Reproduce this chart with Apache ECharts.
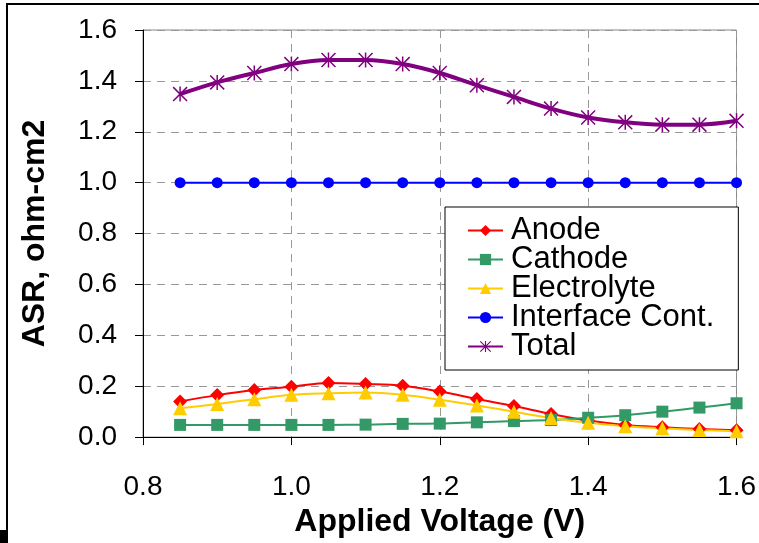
<!DOCTYPE html>
<html>
<head>
<meta charset="utf-8">
<script src="https://cdn.jsdelivr.net/npm/echarts@6/dist/echarts.min.js"></script>
<style>
  html, body { margin: 0; padding: 0; background: #fff; }
  #chart-container { width: 759px; height: 543px; }
</style>
</head>
<body>
<div id="chart-container"></div>
<script>
// applied voltage (V)
var voltage = [0.85, 0.9, 0.95, 1.0, 1.05, 1.1, 1.15, 1.2, 1.25, 1.3, 1.35, 1.4, 1.45, 1.5, 1.55, 1.6];

// ASR, ohm-cm2
var anode = [0.14, 0.165, 0.185, 0.198, 0.213, 0.209, 0.202, 0.179, 0.15, 0.122, 0.091, 0.065, 0.048, 0.039, 0.032, 0.027];
var cathode = [0.048, 0.048, 0.048, 0.048, 0.048, 0.049, 0.052, 0.053, 0.058, 0.063, 0.067, 0.076, 0.086, 0.1, 0.116, 0.133];
var electrolyte = [0.113, 0.13, 0.149, 0.166, 0.172, 0.175, 0.166, 0.147, 0.124, 0.1, 0.075, 0.056, 0.043, 0.035, 0.028, 0.023];
var interfaceCont = [1.0, 1.0, 1.0, 1.0, 1.0, 1.0, 1.0, 1.0, 1.0, 1.0, 1.0, 1.0, 1.0, 1.0, 1.0, 1.0];
var total = [1.348, 1.394, 1.431, 1.466, 1.482, 1.482, 1.466, 1.431, 1.383, 1.337, 1.291, 1.256, 1.237, 1.228, 1.228, 1.243];

var seriesNames = ['Anode', 'Cathode', 'Electrolyte', 'Interface Cont.', 'Total'];

function pairs(ys) {
    return voltage.map(function (x, i) { return [x, ys[i]]; });
}

// asterisk marker (X plus vertical bar)
var starPath = 'path://M9,0 L11,0 L11,20 L9,20 Z M0,1.4 L1.4,0 L20,18.6 L18.6,20 Z M18.6,0 L20,1.4 L1.4,20 L0,18.6 Z';

function lineSeries(name, ys, color, symbol, size, width) {
    return {
        name: name,
        type: 'line',
        smooth: 0.35,
        data: pairs(ys),
        symbol: symbol,
        symbolSize: size,
        showAllSymbol: true,
        lineStyle: { color: color, width: width },
        itemStyle: { color: color },
        emphasis: { disabled: true }
    };
}

var chart = echarts.init(document.getElementById('chart-container'));
var option = {
    animation: false,
    backgroundColor: '#fff',
    textStyle: { fontFamily: 'Liberation Sans, Arial, sans-serif' },
    grid: {
        left: 143,
        right: 21,
        top: 30,
        bottom: 104,
        show: true,
        borderColor: '#888',
        borderWidth: 1
    },
    legend: {
        orient: 'vertical',
        left: 445,
        top: 207,
        data: seriesNames,
        itemWidth: 35,
        itemHeight: 14,
        itemGap: -2,
        padding: [8, 24, 8, 22],
        backgroundColor: '#fff',
        borderColor: '#000',
        borderWidth: 1,
        textStyle: { fontSize: 31, lineHeight: 28, color: '#000', fontFamily: 'Liberation Sans', padding: [0, 0, 0, 3] }
    },
    xAxis: {
        type: 'value',
        min: 0.8,
        max: 1.6,
        interval: 0.2,
        name: 'Applied Voltage (V)',
        nameLocation: 'middle',
        nameGap: 68,
        nameTextStyle: { fontSize: 32, fontWeight: 'bold', color: '#000', fontFamily: 'Liberation Sans' },
        axisLine: { lineStyle: { color: '#000', width: 1 } },
        axisTick: { show: true, length: 8, lineStyle: { color: '#000' } },
        axisLabel: {
            fontSize: 28, color: '#000', margin: 36,
            formatter: function (v) { return v.toFixed(1); }
        },
        splitLine: { show: true, lineStyle: { color: '#999', type: [8, 6], width: 1 } }
    },
    yAxis: {
        type: 'value',
        min: 0,
        max: 1.6,
        interval: 0.2,
        name: 'ASR, ohm-cm2',
        nameLocation: 'middle',
        nameGap: 92,
        nameTextStyle: { fontSize: 32, fontWeight: 'bold', color: '#000', fontFamily: 'Liberation Sans' },
        axisLine: { show: true, lineStyle: { color: '#000', width: 1 } },
        axisTick: { show: true, length: 8, lineStyle: { color: '#000' } },
        axisLabel: {
            fontSize: 28, color: '#000', margin: 26,
            formatter: function (v) { return v.toFixed(1); }
        },
        splitLine: { show: true, lineStyle: { color: '#999', type: [8, 6], width: 1 } }
    },
    series: [
        lineSeries('Anode', anode, '#ff0000', 'diamond', 14, 2),
        lineSeries('Cathode', cathode, '#339966', 'rect', 12, 2),
        lineSeries('Electrolyte', electrolyte, '#ffcc00', 'triangle', 14, 2),
        lineSeries('Interface Cont.', interfaceCont, '#0000ff', 'circle', 11, 2),
        lineSeries('Total', total, '#800080', starPath, 15, 4)
    ],
    graphic: [
        {
            type: 'polyline',
            shape: { points: [[7, 543], [7, 4], [759, 4]] },
            style: { stroke: '#000', lineWidth: 2, fill: null },
            silent: true
        },
        {
            type: 'rect',
            shape: { x: 0, y: 530, width: 7, height: 13 },
            style: { fill: '#000' },
            silent: true
        }
    ]
};
chart.setOption(option);
window.addEventListener('resize', chart.resize);
</script>
</body>
</html>
